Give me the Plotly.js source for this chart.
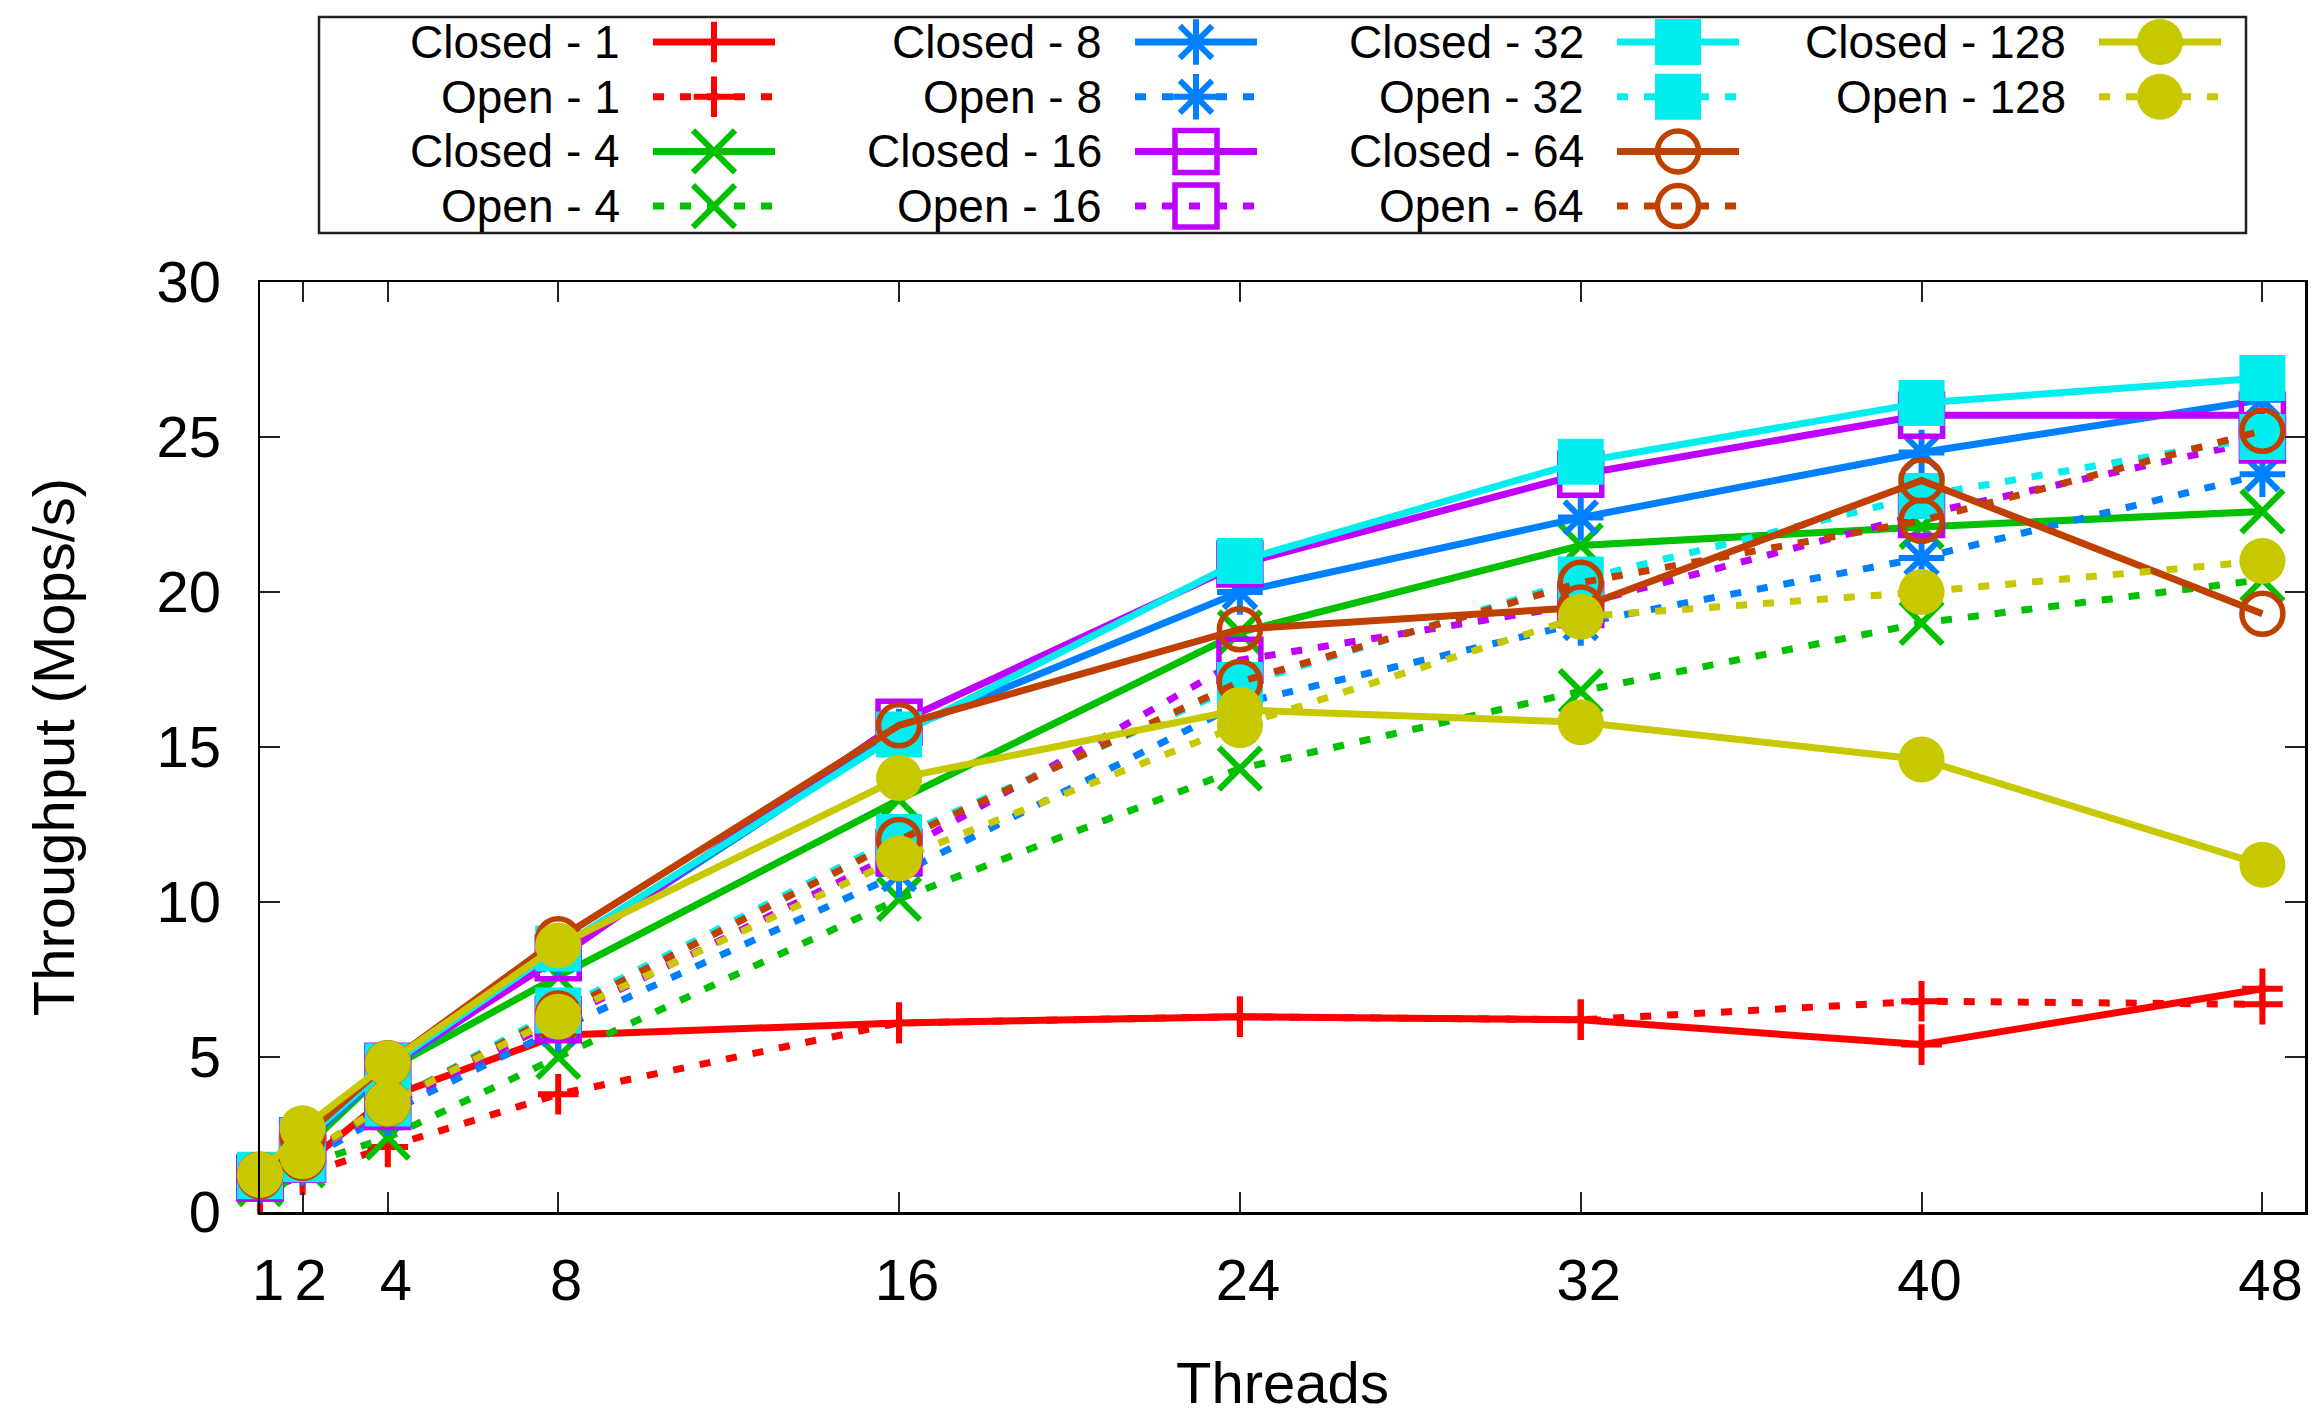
<!DOCTYPE html>
<html><head><meta charset="utf-8">
<script src="https://cdn.plot.ly/plotly-3.0.1.min.js"></script>
<style>html,body{margin:0;padding:0;background:#fff;} #chart{width:2315px;height:1415px;}</style>
</head><body><div id="chart"></div>
<script>
// ---- data ----
const threads = [1, 2, 4, 8, 16, 24, 32, 40, 48];
const xTickLabels = ['1', '2', '4', '8', '16', '24', '32', '40', '48'];
const yTicks = [0, 5, 10, 15, 20, 25, 30];

const closed1   = [0.7, 1.5, 3.7, 5.7, 6.1, 6.3, 6.2, 5.4, 7.2];
const open1     = [0.6, 1.2, 2.1, 3.8, 6.1, 6.3, 6.2, 6.8, 6.7];
const closed4   = [1.0, 2.0, 4.6, 7.6, 13.3, 18.7, 21.5, 22.1, 22.6];
const open4     = [0.9, 1.5, 2.4, 5.0, 10.1, 14.3, 16.8, 19.0, 20.4];
const closed8   = [1.1, 2.2, 4.6, 8.3, 15.5, 20.0, 22.4, 24.5, 26.2];
const open8     = [1.0, 1.6, 3.2, 5.9, 10.9, 16.4, 19.0, 21.1, 23.8];
const closed16  = [1.1, 2.3, 4.7, 8.2, 15.8, 20.9, 23.8, 25.7, 25.7];
const open16    = [1.1, 1.7, 3.4, 6.2, 11.6, 17.8, 19.6, 22.5, 24.9];
const closed32  = [1.2, 2.3, 4.7, 8.5, 15.4, 21.0, 24.2, 26.1, 26.9];
const open32    = [1.15, 1.7, 3.5, 6.5, 12.1, 17.0, 20.4, 23.1, 25.0];
const closed64  = [1.2, 2.4, 4.8, 8.8, 15.7, 18.8, 19.5, 23.6, 19.3];
const open64    = [1.15, 1.75, 3.5, 6.4, 12.0, 17.1, 20.3, 22.3, 25.2];
const closed128 = [1.2, 2.7, 4.8, 8.6, 14.0, 16.2, 15.8, 14.6, 11.2];
const open128   = [1.2, 1.8, 3.5, 6.3, 11.4, 15.7, 19.2, 20.0, 21.0];

const seriesNames = ['Closed - 1', 'Open - 1', 'Closed - 4', 'Open - 4', 'Closed - 8', 'Open - 8',
  'Closed - 16', 'Open - 16', 'Closed - 32', 'Open - 32', 'Closed - 64', 'Open - 64',
  'Closed - 128', 'Open - 128'];
const seriesValues = [closed1, open1, closed4, open4, closed8, open8, closed16, open16,
  closed32, open32, closed64, open64, closed128, open128];

// ---- styles ----
const groupColors  = ['#ff0000', '#00c000', '#0080ff', '#c000ff', '#00eeee', '#c04000', '#c8c800'];
const groupSymbols = ['cross-thin', 'x-thin', 'asterisk', 'square-open', 'square', 'circle-open', 'circle'];
const groupSizes   = [29, 42, 38, 42, 46, 41, 46];
const groupMLine   = [6, 6, 6, 5.5, 0, 5.5, 0];
const LW = 7;
const DOT = '11px,16px';
const FONT = 'Liberation Sans, Arial, Helvetica, sans-serif';
const W = 2315, H = 1415;
const plotL = 260, plotR = 2305, plotT = 282, plotB = 1212;

function styleFor(i) {
  const g = Math.floor(i / 2);
  return {
    color: groupColors[g], symbol: groupSymbols[g], size: groupSizes[g],
    mline: groupMLine[g], dash: (i % 2 === 0) ? 'solid' : DOT
  };
}

const traces = [];
seriesNames.forEach((name, i) => {
  const s = styleFor(i);
  traces.push({
    type: 'scatter', mode: 'lines+markers', name: name,
    x: threads, y: seriesValues[i], xaxis: 'x', yaxis: 'y',
    cliponaxis: false,
    line: {color: s.color, width: LW, dash: s.dash},
    marker: {symbol: s.symbol, size: s.size, color: s.color,
             line: {color: s.color, width: s.mline}},
    showlegend: false
  });
});

// ---- custom legend (text left, sample right), laid out by index ----
const annotations = [];
const legColX0 = 714, legColDX = 482, legRowY0 = 42, legRowDY = 54.7, sampleHalf = 61, textGap = 92;
seriesNames.forEach((name, i) => {
  const s = styleFor(i);
  const col = Math.floor(i / 4), row = i % 4;
  const mx = legColX0 + legColDX * col, ry = legRowY0 + legRowDY * row;
  traces.push({
    type: 'scatter', mode: 'lines', x: [mx - sampleHalf, mx + sampleHalf], y: [ry, ry],
    xaxis: 'x2', yaxis: 'y2', showlegend: false, hoverinfo: 'skip',
    line: {color: s.color, width: LW, dash: s.dash}
  });
  traces.push({
    type: 'scatter', mode: 'markers', x: [mx], y: [ry],
    xaxis: 'x2', yaxis: 'y2', showlegend: false, hoverinfo: 'skip', cliponaxis: false,
    marker: {symbol: s.symbol, size: s.size, color: s.color, line: {color: s.color, width: s.mline}}
  });
  annotations.push({
    xref: 'x2', yref: 'y2', x: mx - textGap, y: ry, xanchor: 'right', yanchor: 'middle',
    text: name, showarrow: false, font: {family: FONT, size: 46, color: '#000'}
  });
});

const axisCommon = {
  showline: true, linecolor: '#000', linewidth: 2.5, mirror: 'ticks',
  ticks: 'inside', ticklen: 20, tickwidth: 2, tickcolor: '#222',
  showgrid: false, zeroline: false, tickfont: {family: FONT, size: 58, color: '#000'},
  automargin: false, fixedrange: true
};

const layout = {
  width: W, height: H,
  margin: {l: 0, r: 0, t: 0, b: 0, pad: 0},
  paper_bgcolor: '#ffffff', plot_bgcolor: 'rgba(0,0,0,0)',
  showlegend: false,
  font: {family: FONT, color: '#000'},
  xaxis: Object.assign({}, axisCommon, {
    domain: [plotL / W, plotR / W], range: [1, 49], anchor: 'y',
    tickmode: 'array', tickvals: threads, ticktext: xTickLabels,
    ticklabelstandoff: 16, ticklabelshift: 8,
    title: {text: 'Threads', font: {family: FONT, size: 58, color: '#000'}, standoff: 62}
  }),
  yaxis: Object.assign({}, axisCommon, {
    domain: [1 - plotB / H, 1 - plotT / H], range: [0, 30], anchor: 'x',
    tickmode: 'array', tickvals: yTicks, ticktext: yTicks.map(String),
    ticklabelstandoff: 25,
    title: {text: 'Throughput (Mops/s)', font: {family: FONT, size: 58, color: '#000'}, standoff: 63}
  }),
  xaxis2: {domain: [0, 1], range: [0, W], visible: false, anchor: 'y2', fixedrange: true},
  yaxis2: {domain: [0, 1], range: [H, 0], visible: false, anchor: 'x2', fixedrange: true},
  shapes: [{type: 'rect', xref: 'paper', yref: 'paper',
    x0: 319 / W, x1: 2246 / W, y0: 1 - 17 / H, y1: 1 - 233 / H,
    line: {color: '#222', width: 2.5}, fillcolor: 'rgba(0,0,0,0)', layer: 'below'}],
  annotations: annotations
};

Plotly.newPlot('chart', traces, layout, {displayModeBar: false, staticPlot: true});
</script>
</body></html>
